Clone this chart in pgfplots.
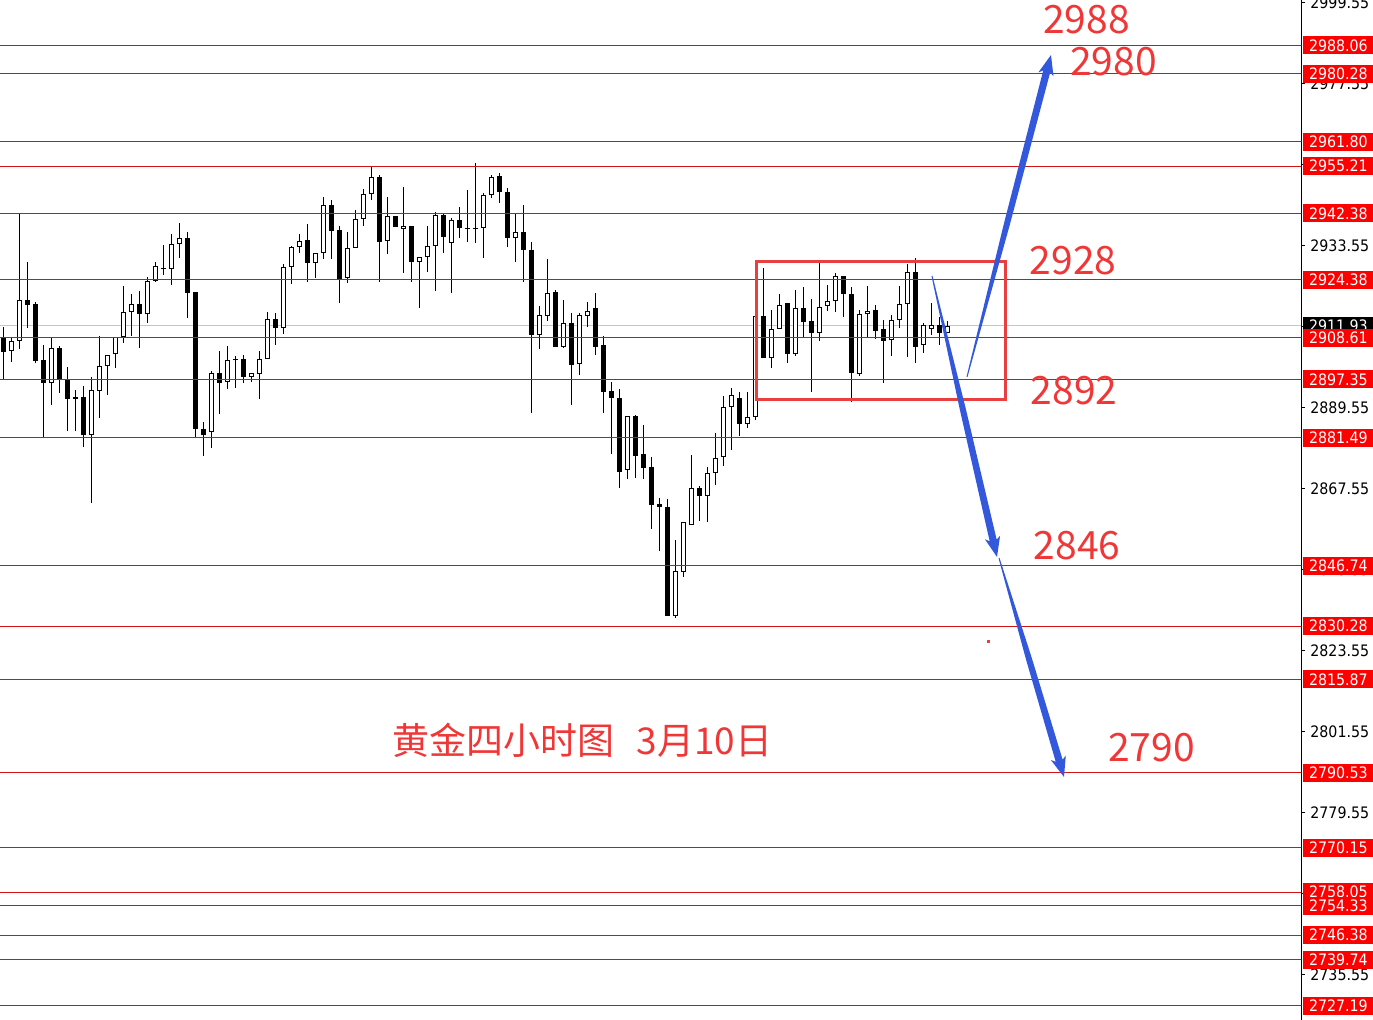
\documentclass[border=0pt]{standalone}
\usepackage{fontspec}
\setmainfont{DejaVu Sans}
\newfontfamily\lbl{DejaVu Sans Condensed}
\newfontfamily\cjk{Noto Sans CJK SC}
\usepackage{pgfplots}
\pgfplotsset{compat=1.18}
\usepackage{pgfplotstable}
\usetikzlibrary{calc}
\definecolor{lnred}{RGB}{210,20,20}
\definecolor{boxred}{RGB}{255,0,0}
\definecolor{txtred}{RGB}{240,55,55}
\definecolor{rectred}{RGB}{232,64,64}
\definecolor{arrblue}{RGB}{52,88,220}

\pgfplotstableread{
i o h l c
0 2908.57 2911.56 2897.16 2904.77
1 2905.04 2908.57 2902.05 2907.75
2 2907.75 2942.52 2905.58 2918.89
3 2918.89 2929.21 2911.29 2917.53
4 2917.80 2918.35 2901.78 2902.32
5 2902.59 2906.67 2881.41 2896.35
6 2896.35 2908.57 2890.37 2905.85
7 2905.85 2906.40 2893.63 2897.16
8 2897.16 2900.69 2883.31 2892.00
9 2892.41 2894.45 2883.31 2892.00
10 2892.54 2895.53 2878.96 2882.22
11 2882.22 2897.98 2863.76 2894.45
12 2894.17 2909.11 2886.84 2900.96
13 2900.96 2903.95 2893.09 2903.95
14 2904.22 2908.84 2900.42 2908.84
15 2908.84 2922.69 2907.21 2915.63
16 2915.63 2920.52 2909.11 2917.80
17 2917.80 2921.33 2905.85 2915.09
18 2915.09 2925.14 2912.64 2924.05
19 2924.05 2929.21 2923.78 2928.12
20 2927.58 2933.83 2925.68 2927.17
21 2927.31 2936.82 2922.96 2934.10
22 2934.10 2939.80 2930.30 2935.73
23 2935.73 2937.36 2914.00 2920.79
24 2921.06 2921.06 2881.68 2883.85
25 2883.85 2885.75 2876.52 2882.22
26 2883.04 2899.61 2878.69 2899.06
27 2899.06 2905.04 2887.93 2896.35
28 2896.62 2906.40 2894.72 2902.59
29 2902.95 2903.68 2894.99 2902.46
30 2902.87 2903.95 2896.35 2897.98
31 2897.98 2899.06 2896.62 2899.06
32 2898.79 2905.04 2892.00 2902.87
33 2902.87 2915.63 2902.87 2913.73
34 2913.73 2915.36 2906.67 2911.29
35 2911.29 2928.67 2909.66 2927.85
36 2927.85 2933.56 2923.24 2933.29
37 2933.29 2936.82 2931.66 2934.91
38 2935.19 2939.53 2923.78 2928.94
39 2928.94 2931.66 2924.87 2931.66
40 2931.66 2946.86 2930.03 2944.69
41 2944.69 2946.05 2930.03 2937.63
42 2937.90 2938.99 2918.08 2924.32
43 2924.87 2937.36 2923.51 2933.01
44 2933.01 2943.33 2933.01 2940.89
45 2940.89 2949.04 2938.99 2947.68
46 2947.68 2955.01 2946.05 2952.30
47 2952.30 2952.84 2923.78 2934.64
48 2934.91 2946.86 2931.38 2941.70
49 2941.70 2941.70 2938.72 2938.72
50 2938.09 2949.58 2926.22 2938.99
51 2938.99 2938.99 2923.78 2929.21
52 2929.21 2930.57 2916.72 2930.57
53 2930.57 2938.99 2926.49 2933.56
54 2933.56 2942.79 2921.33 2941.98
55 2941.98 2942.52 2931.66 2936.00
56 2934.37 2941.16 2920.79 2940.62
57 2940.62 2944.15 2935.73 2938.45
58 2938.45 2948.77 2934.64 2938.04
59 2938.53 2956.10 2934.37 2938.09
60 2938.45 2947.95 2930.30 2947.41
61 2947.41 2952.84 2946.59 2952.30
62 2952.57 2953.38 2945.24 2948.22
63 2948.22 2949.31 2933.29 2935.73
64 2935.73 2942.52 2929.21 2937.36
65 2937.36 2944.69 2923.78 2932.47
66 2932.47 2934.64 2888.20 2909.38
67 2909.38 2917.26 2905.58 2914.82
68 2914.54 2930.03 2913.19 2920.79
69 2921.06 2921.61 2906.12 2906.12
70 2906.12 2918.89 2905.85 2912.64
71 2912.64 2915.36 2890.37 2901.24
72 2901.51 2915.36 2898.52 2914.82
73 2914.54 2918.35 2911.56 2915.90
74 2916.72 2920.79 2903.95 2906.12
75 2906.67 2909.11 2888.20 2893.90
76 2894.17 2896.62 2877.06 2892.27
77 2892.27 2894.72 2867.83 2872.17
78 2872.72 2887.38 2870.27 2887.38
79 2887.38 2887.66 2870.55 2876.52
80 2877.06 2884.94 2870.27 2873.26
81 2873.53 2876.25 2856.69 2863.21
82 2863.48 2865.11 2850.72 2862.67
83 2862.67 2864.84 2833.06 2833.06
84 2833.06 2853.71 2832.52 2845.29
85 2845.01 2858.59 2843.66 2858.59
86 2857.78 2876.79 2857.78 2867.83
87 2867.83 2868.37 2858.87 2865.66
88 2865.66 2873.53 2858.59 2871.90
89 2871.90 2882.77 2868.64 2875.98
90 2876.25 2892.82 2873.80 2889.83
91 2889.83 2894.99 2878.15 2893.09
92 2892.27 2893.90 2881.95 2885.21
93 2885.21 2893.90 2884.13 2887.11
94 2887.11 2914.54 2886.30 2914.54
95 2914.54 2927.58 2903.14 2903.14
96 2903.14 2916.17 2900.42 2911.01
97 2911.01 2920.52 2911.01 2917.53
98 2918.08 2918.08 2901.78 2904.22
99 2904.22 2921.61 2903.68 2916.72
100 2916.72 2922.42 2908.57 2912.91
101 2913.19 2919.16 2893.90 2909.93
102 2909.93 2928.94 2907.75 2916.99
103 2917.26 2922.96 2915.90 2918.62
104 2918.62 2926.22 2915.63 2925.41
105 2925.41 2925.41 2914.27 2920.52
106 2920.52 2922.42 2891.19 2899.06
107 2898.79 2916.17 2898.25 2915.09
108 2915.09 2922.69 2908.84 2915.90
109 2916.17 2917.53 2908.30 2910.47
110 2911.01 2913.46 2896.35 2907.75
111 2908.03 2914.82 2903.68 2913.46
112 2913.46 2922.69 2911.29 2917.80
113 2917.80 2928.67 2903.41 2926.49
114 2926.49 2930.30 2901.78 2906.12
115 2906.67 2912.64 2904.50 2912.10
116 2911.01 2918.08 2909.38 2912.10
117 2912.10 2914.27 2906.67 2909.93
118 2909.93 2913.19 2909.93 2911.93
}\candles

\newcommand\taper[4]{%
  \coordinate (tS) at (#1,#2);
  \coordinate (tT) at (#3,#4);
  \coordinate (tB) at ($(tT)!8.5pt!(tS)$);
  \coordinate (tH) at ($(tT)!10pt!(tS)$);
  \coordinate (tM) at ($(tS)!0.5!(tB)$);
  \fill[arrblue] ($(tS)!0.25pt!90:(tT)$) -- ($(tM)!1.5pt!90:(tT)$) -- ($(tB)!1.8pt!90:(tT)$)
    -- ($(tH)!3.9pt!90:(tT)$) -- (tT) -- ($(tH)!3.9pt!-90:(tT)$)
    -- ($(tB)!1.8pt!-90:(tT)$) -- ($(tM)!1.5pt!-90:(tT)$) -- ($(tS)!0.25pt!-90:(tT)$) -- cycle;
}

\begin{document}
\begin{tikzpicture}
\useasboundingbox (0,0) rectangle (686.5pt,510pt);
\begin{axis}[
  at={(0,0)}, anchor=south west,
  scale only axis, width=650.5pt, height=510pt,
  xmin=-0.4125, xmax=162.21, ymin=2723.32, ymax=3000.365,
  axis x line=none, axis y line=right,
  y axis line style={-, black, line width=0.5pt},
  ytick={2735.55,2757.55,2779.55,2801.55,2823.55,2845.55,2867.55,2889.55,2911.55,2933.55,2955.55,2977.55,2999.55},
  yticklabels={2735.55,2757.55,2779.55,2801.55,2823.55,2845.55,2867.55,2889.55,2911.55,2933.55,2955.55,2977.55,2999.55},
  tick align=outside, major tick length=2pt,
  ytick style={black, line width=0.5pt},
  yticklabel style={font=\lbl\fontsize{7.9}{9}\selectfont, anchor=west, inner sep=0pt, xshift=2.5pt},
  clip=false,
]
\addplot[gray!45, line width=0.5pt, forget plot] coordinates {(-0.4125,2911.93) (162.21,2911.93)};
% wicks
\addplot[draw=none, mark=none, forget plot, error bars/.cd, y dir=plus, y explicit, error mark=none,
  error bar style={draw=black, line width=0.5pt}]
  table[x=i, y=l, y error plus expr={\thisrow{h}-\thisrow{l}}] {\candles};
% bodies (black)
\addplot[draw=none, mark=none, forget plot, error bars/.cd, y dir=plus, y explicit, error mark=none,
  error bar style={draw=black, line width=2.4pt, line cap=butt}]
  table[x=i, y expr={min(\thisrow{o},\thisrow{c})}, y error plus expr={abs(\thisrow{c}-\thisrow{o})}] {\candles};
% white interiors of rising candles
\addplot[draw=none, mark=none, forget plot, restrict expr to domain={\thisrow{c}-\thisrow{o}}{0.6:1000},
  error bars/.cd, y dir=plus, y explicit, error mark=none,
  error bar style={draw=white, line width=1.4pt, line cap=butt}]
  table[x=i, y expr={\thisrow{o}+0.27}, y error plus expr={\thisrow{c}-\thisrow{o}-0.54}] {\candles};
% support / resistance lines
\pgfplotsinvokeforeach{2988.06,2980.28,2961.80,2955.21,2942.38,2924.38,2908.61,2897.35,2881.49,2846.74,2830.28,2815.87,2790.53,2770.15,2758.05,2754.33,2746.38,2739.74,2727.19}{
  \addplot[lnred, line width=0.5pt, forget plot] coordinates {(-0.4125,#1) (162.21,#1)};
}
\end{axis}
\begin{scope}[x=0.5pt, y=-0.5pt, shift={(0pt,510pt)}]
  \node[anchor=west, fill=black, text=white, minimum width=35pt, minimum height=9pt, inner sep=0pt,
    font=\lbl\fontsize{7.9}{9}\selectfont] at (1303,325.6) {2911.93};
  \foreach \lv in {2988.06,2980.28,2961.80,2955.21,2942.38,2924.38,2908.61,2897.35,2881.49,2846.74,2830.28,2815.87,2790.53,2770.15,2758.05,2754.33,2746.38,2739.74,2727.19}{
    \node[anchor=west, fill=boxred, text=white, minimum width=35pt, minimum height=9pt, inner sep=0pt,
      font=\lbl\fontsize{7.9}{9}\selectfont] at (1303,{3+(2999.55-\lv)*3.6818}) {\lv};
  }
  \draw[rectred, line width=1.5pt] (756.5,261.5) rectangle (1005.5,400);
  \taper{932}{276}{997}{557}
  \taper{999}{558}{1064}{777}
  \taper{967}{377}{1051}{55}
  \fill[rectred] (986.5,640.5) rectangle (989.5,643.5);
  \begin{scope}[every node/.style={text=txtred, inner sep=0pt, font=\cjk\fontsize{19.5}{20}\selectfont}]
    \node at (1086.5,20) {2988};
    \node at (1113.5,61.5) {2980};
    \node at (1073,261) {2928};
    \node at (1074,391) {2892};
    \node at (1077,545.5) {2846};
    \node at (1151.5,748) {2790};
    \node[font=\cjk\fontsize{18.5}{20}\selectfont] at (582.5,740) {黄金四小时图\hspace{0.6em}3月10日};
  \end{scope}
\end{scope}
\end{tikzpicture}
\end{document}
